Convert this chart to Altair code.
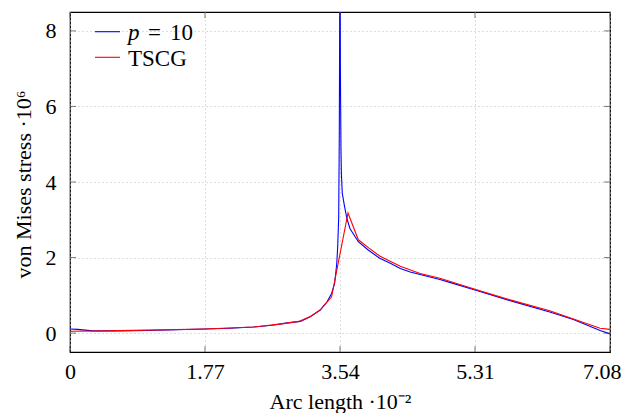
import altair as alt
import pandas as pd

# ---- data ----
blue_x = [0.0, 0.1, 0.3, 0.6, 1.0, 1.4, 1.77, 2.1, 2.4, 2.65, 2.85, 3.02, 3.15, 3.28, 3.37,
          3.43, 3.47, 3.497, 3.51, 3.523, 3.531, 3.535, 3.54, 3.545, 3.548, 3.553, 3.558,
          3.57, 3.6, 3.63, 3.67, 3.78, 3.91, 4.06, 4.2, 4.33, 4.46, 4.59, 4.85, 5.0, 5.31,
          5.77, 6.29, 6.6, 6.95, 7.08]
blue_y = [0.11, 0.10, 0.06, 0.06, 0.07, 0.09, 0.11, 0.13, 0.16, 0.21, 0.27, 0.31, 0.43, 0.61, 0.83,
          1.05, 1.32, 1.83, 2.29, 3.08, 5.29, 7.9, 12.0, 7.0, 6.17, 4.85, 4.23,
          3.7, 3.35, 3.04, 2.77, 2.42, 2.2, 1.98, 1.85, 1.71, 1.62, 1.55, 1.42, 1.33, 1.14,
          0.86, 0.56, 0.36, 0.07, -0.02]

red_x = [0.0, 0.5, 1.0, 1.77, 2.4, 2.8, 3.0, 3.15, 3.28, 3.43, 3.645, 3.78, 3.92, 4.06,
         4.33, 4.59, 4.85, 5.31, 5.77, 6.29, 6.95, 7.08]
red_y = [0.05, 0.06, 0.08, 0.11, 0.16, 0.25, 0.31, 0.44, 0.61, 0.96, 3.18, 2.47, 2.25, 2.04,
         1.77, 1.58, 1.45, 1.16, 0.88, 0.59, 0.13, 0.10]

series_names = ["p = 10", "TSCG"]
series_colors = ["#0000ff", "#ff0000"]
x_ticks = [0, 1.77, 3.54, 5.31, 7.08]
y_ticks = [0, 2, 4, 6, 8]
x_title = "Arc length ·10⁻²"
y_title = "von Mises stress ·10⁶"

FONT = "Liberation Serif"
W, H = 540, 340

xs = alt.Scale(domain=[0, 7.08], nice=False, zero=False)
ys = alt.Scale(domain=[-0.5, 8.5], nice=False, zero=False)

last_test = "datum.value > 7.0"
x_axis = alt.Axis(values=x_ticks, labelExpr="datum.value == 0 ? '0' : format(datum.value, '.2f')",
                  grid=True, gridDash=[1, 3], gridColor="#bdbdbd", gridWidth=1,
                  ticks=False, tickSize=0, domain=False, labelFlush=False,
                  labelAlign={"condition": {"test": last_test, "value": "right"}, "value": "center"},
                  labelOffset={"condition": {"test": last_test, "value": 11}, "value": 0},
                  labelFont=FONT, labelFontSize=22, labelColor="black",
                  labelBaseline="alphabetic", labelPadding=26,
                  title=x_title, titleFont=FONT, titleFontSize=22, titleFontWeight="normal",
                  titleColor="black", titleBaseline="alphabetic", titleY=56)
y_axis = alt.Axis(values=y_ticks, format="d",
                  grid=True, gridDash=[1, 3], gridColor="#bdbdbd", gridWidth=1,
                  ticks=False, tickSize=0, domain=False, labelFlush=False,
                  labelFont=FONT, labelFontSize=22, labelColor="black", labelPadding=14,
                  title=y_title, titleFont=FONT, titleFontSize=22, titleFontWeight="normal",
                  titleColor="black", titleBaseline="alphabetic", titleX=-40, titleY=172)

dfb = pd.DataFrame({"x": blue_x, "y": blue_y, "i": range(len(blue_x))})
dfr = pd.DataFrame({"x": red_x, "y": red_y, "i": range(len(red_x))})

blue = alt.Chart(dfb).mark_line(color=series_colors[0], strokeWidth=1.1, clip=True).encode(
    x=alt.X("x:Q", scale=xs, axis=x_axis),
    y=alt.Y("y:Q", scale=ys, axis=y_axis),
    order="i:Q")
red = alt.Chart(dfr).mark_line(color=series_colors[1], strokeWidth=1.1, clip=True).encode(
    x=alt.X("x:Q", scale=xs, axis=x_axis),
    y=alt.Y("y:Q", scale=ys, axis=y_axis),
    order="i:Q")

# inward ticks on all four sides
dxt = pd.DataFrame({"x": x_ticks})
dyt = pd.DataFrame({"y": y_ticks})
tick_style = dict(color="#444444", thickness=1, size=6)
tb = alt.Chart(dxt).mark_tick(orient="vertical", **tick_style).encode(
    x=alt.X("x:Q", scale=xs, axis=x_axis), y=alt.value(H - 3))
tt = alt.Chart(dxt).mark_tick(orient="vertical", **tick_style).encode(
    x=alt.X("x:Q", scale=xs, axis=x_axis), y=alt.value(3))
tl = alt.Chart(dyt).mark_tick(orient="horizontal", **tick_style).encode(
    y=alt.Y("y:Q", scale=ys, axis=y_axis), x=alt.value(3))
tr = alt.Chart(dyt).mark_tick(orient="horizontal", **tick_style).encode(
    y=alt.Y("y:Q", scale=ys, axis=y_axis), x=alt.value(W - 3))

# legend (manual so that the "p" can be italic)
leg_rows = pd.DataFrame({"name": series_names})
rule1 = alt.Chart(leg_rows.iloc[[0]]).mark_rule(color=series_colors[0], strokeWidth=1.1).encode(
    x=alt.value(25), x2=alt.value(50), y=alt.value(19.7))
rule2 = alt.Chart(leg_rows.iloc[[1]]).mark_rule(color=series_colors[1], strokeWidth=1.1).encode(
    x=alt.value(25), x2=alt.value(50), y=alt.value(45.3))
p_part, eq_part, num_part = series_names[0].split(" ")
txt_p = alt.Chart(pd.DataFrame({"t": [p_part]})).mark_text(
    font=FONT, fontSize=23, fontStyle="italic", align="left", baseline="alphabetic", color="black").encode(
    x=alt.value(58), y=alt.value(28), text="t:N")
txt_eq = alt.Chart(pd.DataFrame({"t": [eq_part]})).mark_text(
    font=FONT, fontSize=23, align="left", baseline="alphabetic", color="black").encode(
    x=alt.value(78), y=alt.value(28), text="t:N")
txt_num = alt.Chart(pd.DataFrame({"t": [num_part]})).mark_text(
    font=FONT, fontSize=23, align="left", baseline="alphabetic", color="black").encode(
    x=alt.value(100), y=alt.value(28), text="t:N")
txt_t = alt.Chart(pd.DataFrame({"t": [series_names[1]]})).mark_text(
    font=FONT, fontSize=23, align="left", baseline="alphabetic", color="black").encode(
    x=alt.value(58), y=alt.value(54), text="t:N")

chart = alt.layer(blue, red, tb, tt, tl, tr, rule1, rule2, txt_p, txt_eq, txt_num, txt_t).properties(
    width=W, height=H,
    autosize=alt.AutoSizeParams(type="none"),
    padding={"left": 62, "top": 4, "right": 12, "bottom": 61},
    background="white",
).configure_view(stroke="black", strokeWidth=1.2)

chart.save("out.html", embed_options={"renderer": "svg", "actions": False})
